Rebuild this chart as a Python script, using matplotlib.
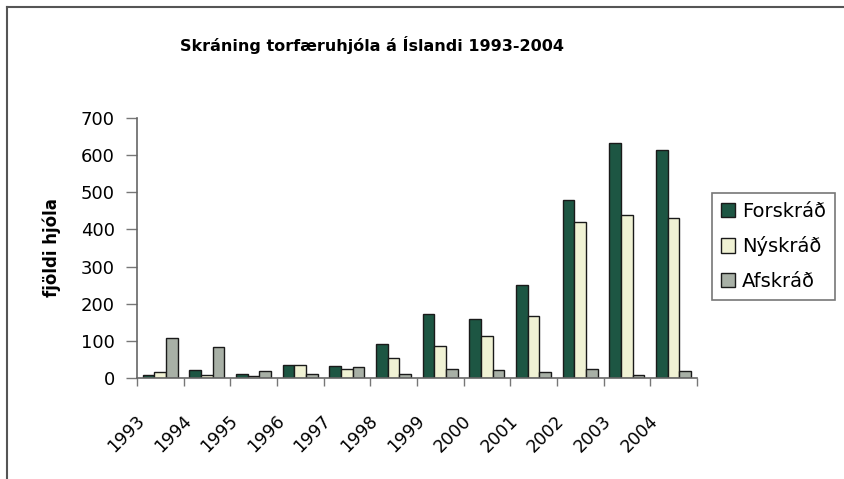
import numpy as np
import matplotlib
matplotlib.use("Agg")
from matplotlib import pyplot as plt
from matplotlib.lines import Line2D
from matplotlib.transforms import ScaledTranslation

years = ["1993", "1994", "1995", "1996", "1997", "1998",
         "1999", "2000", "2001", "2002", "2003", "2004"]
forskrad = [9, 22, 11, 35, 32, 92, 173, 159, 250, 479, 634, 614]
nyskrad = [15, 9, 6, 35, 23, 54, 87, 113, 168, 419, 440, 432]
afskrad = [108, 83, 20, 10, 29, 10, 24, 22, 15, 24, 9, 18]

series_names = ["Forskráð", "Nýskráð", "Afskráð"]
colors = ["#1d5643", "#f0f2d4", "#a8b0a6"]

plt.rcParams['font.family'] = ['DejaVu Sans']

fig = plt.figure(figsize=(8.45, 4.79), dpi=100)
ax = fig.add_axes([137 / 845, 101 / 479, 560 / 845, 260 / 479])

x = np.arange(len(years))
w = 0.25
for k, (vals, name, c) in enumerate(zip([forskrad, nyskrad, afskrad], series_names, colors)):
    ax.bar(x + (k - 1) * w, vals, width=w, color=c, edgecolor="#1a1a1a",
           linewidth=1.0, label=name)

ax.set_xlim(-0.5, len(years) - 0.5)
ax.set_ylim(0, 700)
ax.set_yticks(range(0, 701, 100))
ax.tick_params(axis="y", labelsize=13, length=8, width=1, color="#777777", pad=8)

ax.set_xticks(x)
ax.set_xticklabels(years, rotation=45, ha="right", rotation_mode="anchor", fontsize=12.5)
ax.set_xticks(np.arange(-0.5, len(years), 1), minor=True)
ax.tick_params(axis="x", which="major", length=0, pad=10)
ax.tick_params(axis="x", which="minor", length=6, width=1, color="#777777")
shift = ScaledTranslation(-25 / 100, -20 / 100, fig.dpi_scale_trans)
for lab in ax.get_xticklabels():
    lab.set_transform(lab.get_transform() + shift)

for s in ["top", "right"]:
    ax.spines[s].set_visible(False)
for s in ["left", "bottom"]:
    ax.spines[s].set_color("#666666")
    ax.spines[s].set_linewidth(1.2)

ax.set_ylabel("fjöldi hjóla", fontsize=12, fontweight="bold", labelpad=14)

fig.text(372 / 845, 1 - 45 / 479, "Skráning torfæruhjóla á Íslandi 1993-2004",
         ha="center", va="center", fontsize=11.5, fontweight="bold")

leg = ax.legend(loc="upper left", bbox_to_anchor=(712 / 845, 1 - 193 / 479),
                bbox_transform=fig.transFigure, fontsize=14, frameon=True,
                fancybox=False, edgecolor="#555555", handlelength=0.75,
                handleheight=0.75, handletextpad=0.35, labelspacing=0.8,
                borderpad=0.45, borderaxespad=0)
leg.get_frame().set_linewidth(1.2)

# chart border (cut off at right and bottom in the scan)
fig.add_artist(Line2D([7 / 845, 7 / 845], [0, 1 - 7 / 479],
                      transform=fig.transFigure, color="#555555", linewidth=1.5))
fig.add_artist(Line2D([7 / 845, 1], [1 - 7 / 479, 1 - 7 / 479],
                      transform=fig.transFigure, color="#555555", linewidth=1.5))

fig.savefig("out.png", dpi=100)
plt.close(fig)
